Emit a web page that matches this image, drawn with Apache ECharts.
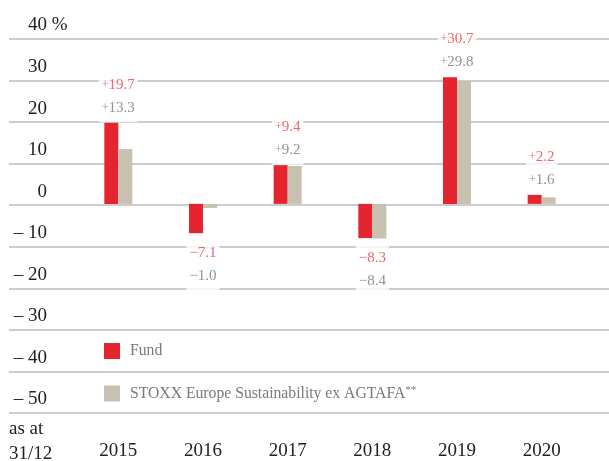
<!DOCTYPE html>
<html>
<head>
<meta charset="utf-8">
<script src="https://cdn.jsdelivr.net/npm/echarts@6/dist/echarts.min.js"></script>
<style>
  html, body { margin: 0; padding: 0; background: #fff; }
  #main { width: 609px; height: 461px; }
</style>
</head>
<body>
<div id="main"></div>
<script>
var years = ['2015', '2016', '2017', '2018', '2019', '2020'];
var fund = [19.7, -7.1, 9.4, -8.3, 30.7, 2.2];
var bench = [13.3, -1.0, 9.2, -8.4, 29.8, 1.6];
var fundName = 'Fund';
var benchName = 'STOXX Europe Sustainability ex AGTAFA**';

var RED = '#e42530';
var BEIGE = '#c8c1b0';
var SERIF = 'Liberation Serif';

// label anchor: the end of the longer bar of each pair
var anchor = years.map(function (y, i) {
  var v = fund[i] >= 0 ? Math.max(fund[i], bench[i]) : Math.min(fund[i], bench[i]);
  return {
    value: v,
    label: v >= 0 ? { position: 'top', distance: 0 } : { position: 'bottom', distance: 5 }
  };
});

function fmt(v, st) {
  if (v >= 0) return '{' + st + 'p|+}{' + st + '|' + v.toFixed(1) + '}';
  return '{' + st + '|\u2212' + Math.abs(v).toFixed(1) + '}';
}

var chartDom = document.getElementById('main');
var myChart = echarts.init(chartDom);

myChart.setOption({
  animation: false,
  backgroundColor: '#fff',
  grid: [
    { left: 9, right: 0, top: 39, bottom: 48 },
    { left: 76, right: 25, top: 39, bottom: 48 }
  ],
  legend: {
    orient: 'vertical',
    left: 104,
    top: 343,
    padding: 0,
    itemWidth: 16,
    itemHeight: 16,
    itemGap: 26,
    icon: 'rect',
    selectedMode: false,
    data: [fundName, benchName],
    formatter: function (name) {
      return name.replace('**', '{s|**}');
    },
    textStyle: {
      fontFamily: SERIF,
      fontSize: 15.7,
      color: '#7a7a7a',
      padding: [0, 0, 0, 5],
      rich: {
        s: { fontFamily: SERIF, fontSize: 11, color: '#7a7a7a', verticalAlign: 'top', padding: [0, 0, 6, 0] }
      }
    }
  },
  xAxis: [
    { type: 'value', gridIndex: 0, show: false, min: 0, max: 1 },
    {
      type: 'category',
      gridIndex: 1,
      data: years,
      axisLine: { show: false },
      axisTick: { show: false },
      axisLabel: {
        fontFamily: SERIF,
        fontSize: 19,
        color: '#222',
        margin: 32
      }
    }
  ],
  yAxis: [
    {
      type: 'value',
      gridIndex: 0,
      min: -50,
      max: 40,
      interval: 10,
      axisLine: { show: false },
      axisTick: { show: false },
      splitLine: { lineStyle: { color: '#bdbdbd', width: 1.5 } },
      axisLabel: {
        inside: true,
        margin: 0,
        verticalAlign: 'bottom',
        padding: [0, 0, 4, 0],
        formatter: function (v) {
          var t = v < 0 ? '\u2013 ' + Math.abs(v) : String(v);
          return '{n|' + t + '}' + (v === 40 ? '{p| %}' : '');
        },
        rich: {
          n: { fontFamily: SERIF, fontSize: 19, color: '#222', width: 38, align: 'right' },
          p: { fontFamily: SERIF, fontSize: 19, color: '#222', align: 'right' }
        }
      }
    },
    {
      type: 'value',
      gridIndex: 1,
      min: -50,
      max: 40,
      interval: 10,
      show: false,
      splitLine: { show: false }
    }
  ],
  series: [
    {
      name: fundName,
      type: 'bar',
      xAxisIndex: 1,
      yAxisIndex: 1,
      barWidth: 14,
      barGap: '0%',
      silent: true,
      itemStyle: { color: RED },
      data: fund
    },
    {
      name: benchName,
      type: 'bar',
      xAxisIndex: 1,
      yAxisIndex: 1,
      barWidth: 14,
      barGap: '0%',
      silent: true,
      itemStyle: { color: BEIGE },
      data: bench
    },
    {
      name: 'labels',
      type: 'scatter',
      xAxisIndex: 1,
      yAxisIndex: 1,
      symbolSize: 1,
      silent: true,
      z: 5,
      itemStyle: { color: 'rgba(0,0,0,0)' },
      data: anchor,
      label: {
        show: true,
        backgroundColor: '#fff',
        padding: [3, 3, 3, 3],
        lineHeight: 23,
        formatter: function (p) {
          var i = p.dataIndex;
          return fmt(fund[i], 'r') + '\n' + fmt(bench[i], 'g');
        },
        rich: {
          r: { fontFamily: SERIF, fontSize: 15, color: '#e8424b', lineHeight: 23 },
          rp: { fontFamily: SERIF, fontSize: 12, color: '#e8424b', lineHeight: 23 },
          g: { fontFamily: SERIF, fontSize: 15, color: '#777', lineHeight: 23 },
          gp: { fontFamily: SERIF, fontSize: 12, color: '#777', lineHeight: 23 }
        }
      }
    }
  ],
  graphic: [
    {
      type: 'text',
      left: 9,
      top: 420,
      style: { text: 'as at', font: '19px "Liberation Serif"', fill: '#222' }
    },
    {
      type: 'text',
      left: 9,
      top: 445,
      style: { text: '31/12', font: '19px "Liberation Serif"', fill: '#222' }
    }
  ]
});

window.onresize = function () { myChart.resize(); };
</script>
</body>
</html>
